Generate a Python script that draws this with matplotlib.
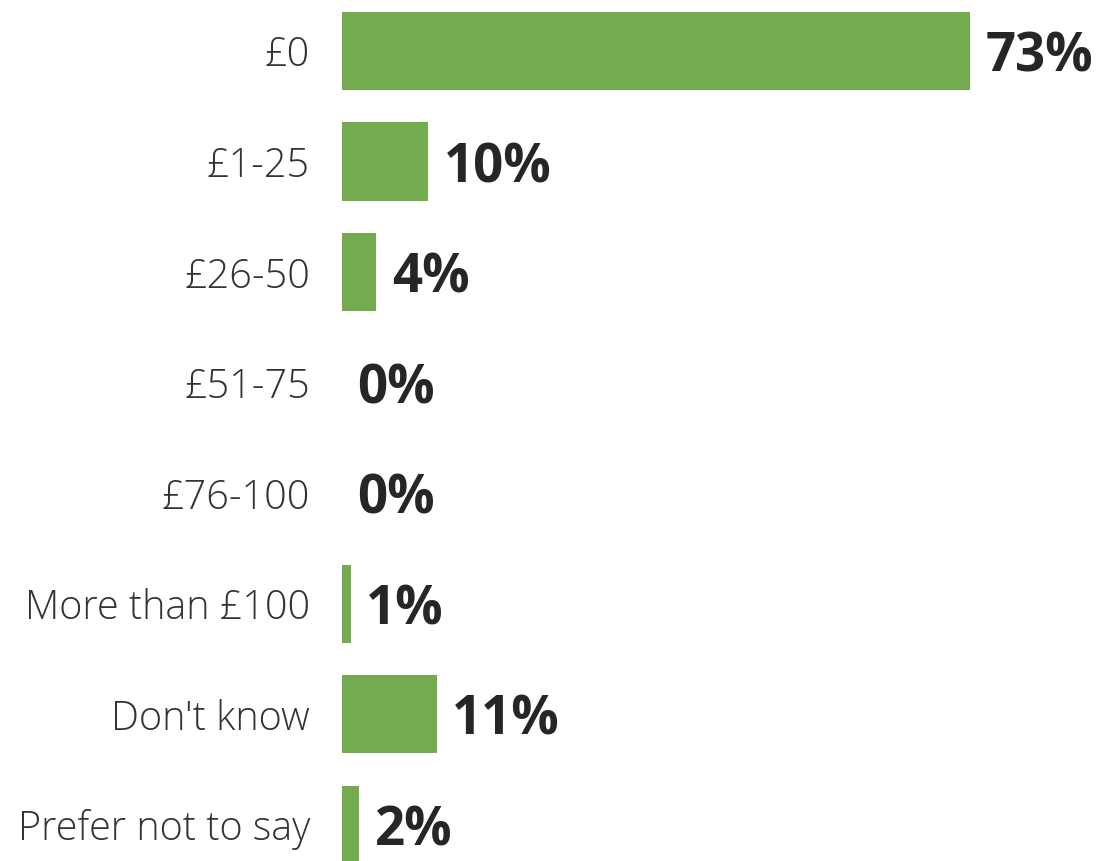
import matplotlib
matplotlib.use('Agg')
from matplotlib import pyplot as plt

plt.rcParams['font.family'] = ['Open Sans', 'DejaVu Sans']

# 数据
categories = ['£0', '£1-25', '£26-50', '£51-75', '£76-100', 'More than £100', "Don't know", 'Prefer not to say']
values = [73, 10, 4, 0, 0, 1, 11, 2]

fig = plt.figure(figsize=(10.99, 8.61), dpi=100)
ax = fig.add_axes([342 / 1099, 0, 757 / 1099, 1])

pos = list(range(len(categories)))
ax.barh(pos, values, height=0.706, color='#75AB4F')

for i, v in zip(pos, values):
    ax.text(v + 1.8, i + 0.06, f'{v}%', va='center', ha='left',
            fontsize=38, fontweight='bold', color='#262626')

ax.set_xlim(0, 88)
ax.set_ylim(7.330, -0.4615)
ax.set_yticks(pos)
ax.set_yticklabels(categories, fontsize=28.5, fontweight='light', color='#333333')
ax.tick_params(axis='y', length=0, pad=23)
ax.set_xticks([])
for s in ax.spines.values():
    s.set_visible(False)

plt.savefig('out.png', dpi=100)
